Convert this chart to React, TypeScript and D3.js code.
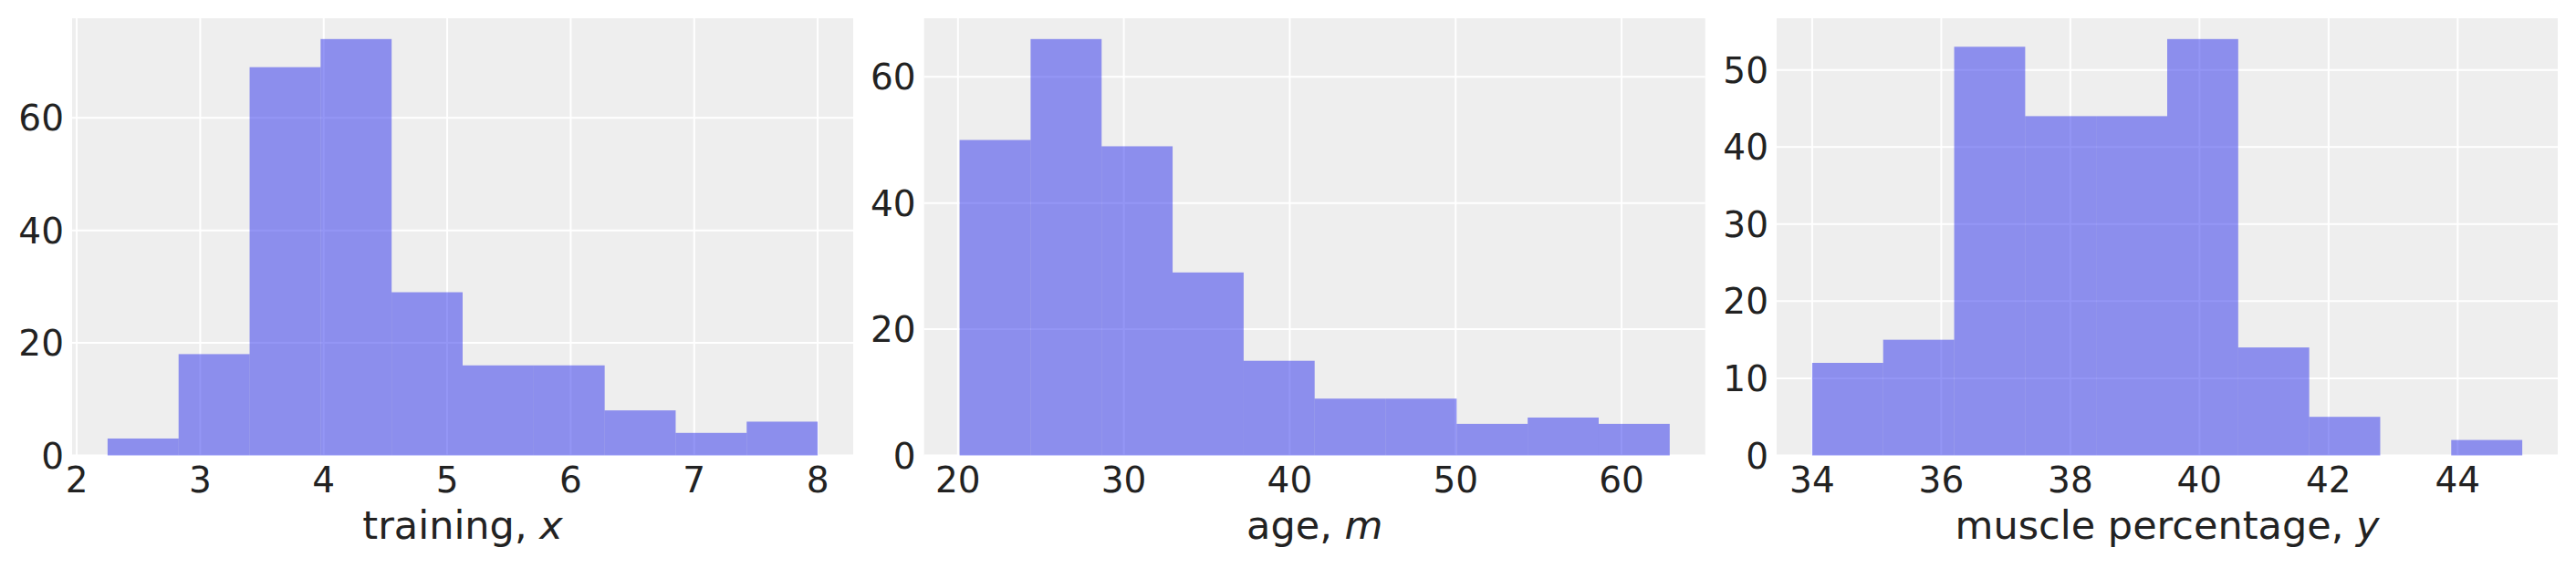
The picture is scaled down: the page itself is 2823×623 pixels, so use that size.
import React from "react";
import * as d3 from "d3";

const W = 2823;
const H = 623;

// Panel 1: training, x
const trainingEdges = [2.25, 2.825, 3.4, 3.975, 4.55, 5.125, 5.7, 6.275, 6.85, 7.425, 8.0];
const trainingCounts = [3, 18, 69, 74, 29, 16, 16, 8, 4, 6];
const trainingXTicks = [2, 3, 4, 5, 6, 7, 8];
const trainingYTicks = [0, 20, 40, 60];

// Panel 2: age, m
const ageEdges = [20.1, 24.38, 28.66, 32.94, 37.22, 41.5, 45.78, 50.06, 54.34, 58.62, 62.9];
const ageCounts = [50, 66, 49, 29, 15, 9, 9, 5, 6, 5];
const ageXTicks = [20, 30, 40, 50, 60];
const ageYTicks = [0, 20, 40, 60];

// Panel 3: muscle percentage, y
const muscleEdges = [34, 35.1, 36.2, 37.3, 38.4, 39.5, 40.6, 41.7, 42.8, 43.9, 45.0];
const muscleCounts = [12, 15, 53, 44, 44, 54, 14, 5, 0, 2];
const muscleXTicks = [34, 36, 38, 40, 42, 44];
const muscleYTicks = [0, 10, 20, 30, 40, 50];

const panels = [
  { left: 79, edges: trainingEdges, counts: trainingCounts, xTicks: trainingXTicks, yTicks: trainingYTicks, label: "training, ", varName: "x" },
  { left: 1012.7, edges: ageEdges, counts: ageCounts, xTicks: ageXTicks, yTicks: ageYTicks, label: "age, ", varName: "m" },
  { left: 1947, edges: muscleEdges, counts: muscleCounts, xTicks: muscleXTicks, yTicks: muscleYTicks, label: "muscle percentage, ", varName: "y" },
];

const PW = 856;
const TOP = 20;
const BOTTOM = 499.5;
const FONT = "'DejaVu Sans', sans-serif";
const FS = 39;
const LFS = 43;
const TEXT = "#222222";

function Panel({ p }: { p: (typeof panels)[number] }) {
  const lo = p.edges[0];
  const hi = p.edges[p.edges.length - 1];
  const pad = (hi - lo) * 0.05;
  const x = d3.scaleLinear().domain([lo - pad, hi + pad]).range([p.left, p.left + PW]);
  const y = d3.scaleLinear().domain([0, (d3.max(p.counts) as number) * 1.05]).range([BOTTOM, TOP]);
  return (
    <g>
      <rect x={p.left} y={TOP} width={PW} height={BOTTOM - TOP} fill="#eeeeee" />
      {p.xTicks.map((t) => (
        <line key={"gx" + t} x1={x(t)} x2={x(t)} y1={TOP} y2={BOTTOM} stroke="#ffffff" strokeWidth={2} />
      ))}
      {p.yTicks.map((t) => (
        <line key={"gy" + t} x1={p.left} x2={p.left + PW} y1={y(t)} y2={y(t)} stroke="#ffffff" strokeWidth={2} />
      ))}
      {p.counts.map((c, i) =>
        c > 0 ? (
          <rect
            key={"b" + i}
            x={x(p.edges[i])}
            y={y(c)}
            width={x(p.edges[i + 1]) - x(p.edges[i])}
            height={y(0) - y(c)}
            fill="#2a2eec"
            fillOpacity={0.5}
          />
        ) : null
      )}
      {p.xTicks.map((t) => (
        <text key={"tx" + t} x={x(t)} y={540} textAnchor="middle" fontFamily={FONT} fontSize={FS} fill={TEXT}>
          {t}
        </text>
      ))}
      {p.yTicks.map((t) => (
        <text key={"ty" + t} x={p.left - 9} y={y(t)} dy="0.36em" textAnchor="end" fontFamily={FONT} fontSize={FS} fill={TEXT}>
          {t}
        </text>
      ))}
      <text x={p.left + PW / 2} y={591} textAnchor="middle" fontFamily={FONT} fontSize={LFS} fill={TEXT}>
        {p.label}
        <tspan fontStyle="italic">{p.varName}</tspan>
      </text>
    </g>
  );
}

export default function App() {
  return (
    <div style={{ position: "absolute", left: 0, top: 0 }}>
      <svg width={W} height={H} style={{ display: "block", background: "#ffffff" }}>
        <rect width={W} height={H} fill="#ffffff" />
        {panels.map((p, i) => (
          <Panel key={i} p={p} />
        ))}
      </svg>
    </div>
  );
}
